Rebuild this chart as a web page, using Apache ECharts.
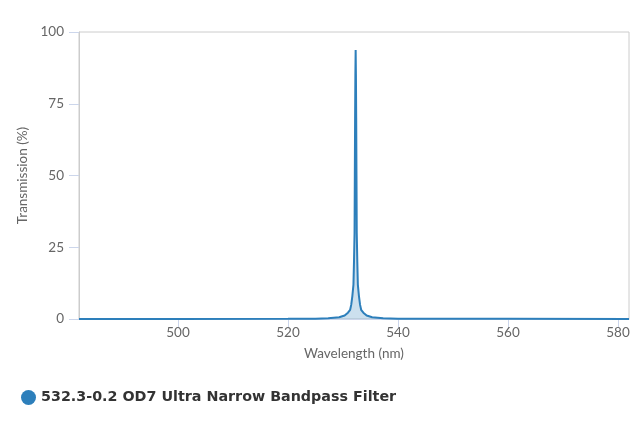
<!DOCTYPE html>
<html>
<head>
<meta charset="utf-8">
<script src="https://cdn.jsdelivr.net/npm/echarts@6/dist/echarts.min.js"></script>
<style>html,body{margin:0;padding:0;background:#fff}#c{width:640px;height:427px}</style>
</head>
<body>
<div id="c"></div>
<script>
var seriesName = '532.3-0.2 OD7 Ultra Narrow Bandpass Filter';
var wavelengths = [482, 500, 520, 525, 527.3, 529.3, 530.3, 530.9, 531.3, 531.5, 531.7, 531.9, 532.0, 532.1, 532.15, 532.2, 532.25, 532.3, 532.35, 532.4, 532.45, 532.5, 532.6, 532.7, 532.9, 533.1, 533.3, 533.7, 534.3, 535.3, 537.3, 540, 560, 582];
var transmission = [0.03, 0.04, 0.06, 0.1, 0.25, 0.6, 1.2, 2.2, 3.2, 5, 8, 12, 20, 30, 50, 70, 85, 93.7, 85, 70, 50, 30, 20, 12, 8, 5, 3.2, 2.2, 1.2, 0.6, 0.25, 0.1, 0.05, 0.03];
var xTicks = [500, 520, 540, 560, 580];

var data = wavelengths.map(function (w, i) { return [w, transmission[i]]; });
var chart = echarts.init(document.getElementById('c'));
var labelFont = 'Lato, "DejaVu Sans", sans-serif';
chart.setOption({
  animation: false,
  grid: { left: 79, right: 11, top: 32, bottom: 108, show: true, borderColor: '#cccccc', borderWidth: 1 },
  legend: {
    left: 16, top: 385, icon: 'circle', itemWidth: 15, itemHeight: 15, itemGap: 10,
    textStyle: { fontFamily: '"DejaVu Sans", sans-serif', fontWeight: 'bold', fontSize: 14.3, color: '#333333' },
    data: [seriesName]
  },
  xAxis: {
    type: 'value', min: 482, max: 582,
    name: 'Wavelength (nm)', nameLocation: 'middle', nameGap: 28,
    nameTextStyle: { color: '#666666', fontSize: 13.5, fontFamily: labelFont },
    axisLine: { show: true, lineStyle: { color: '#ccd6eb' } },
    axisTick: { show: true, length: 9, customValues: xTicks, lineStyle: { color: '#ccd6eb' } },
    axisLabel: { customValues: xTicks, color: '#666666', fontSize: 13.5, margin: 7, fontFamily: labelFont },
    splitLine: { show: false }
  },
  yAxis: {
    type: 'value', min: 0, max: 100, interval: 25,
    name: 'Transmission (%)', nameLocation: 'middle', nameGap: 41,
    nameTextStyle: { color: '#666666', fontSize: 13.5, fontFamily: labelFont },
    axisLine: { show: true, lineStyle: { color: '#cccccc' } },
    axisTick: { show: true, length: 10, lineStyle: { color: '#ccd6eb' } },
    axisLabel: { color: '#666666', fontSize: 13.5, margin: 15, fontFamily: labelFont },
    splitLine: { show: false }
  },
  series: [{
    name: seriesName, type: 'line', data: data, showSymbol: false, symbol: 'circle',
    itemStyle: { color: '#2d7fbb' },
    lineStyle: { color: '#2d7fbb', width: 2 },
    areaStyle: { color: 'rgba(45,127,187,0.35)' }
  }]
});
</script>
</body>
</html>
